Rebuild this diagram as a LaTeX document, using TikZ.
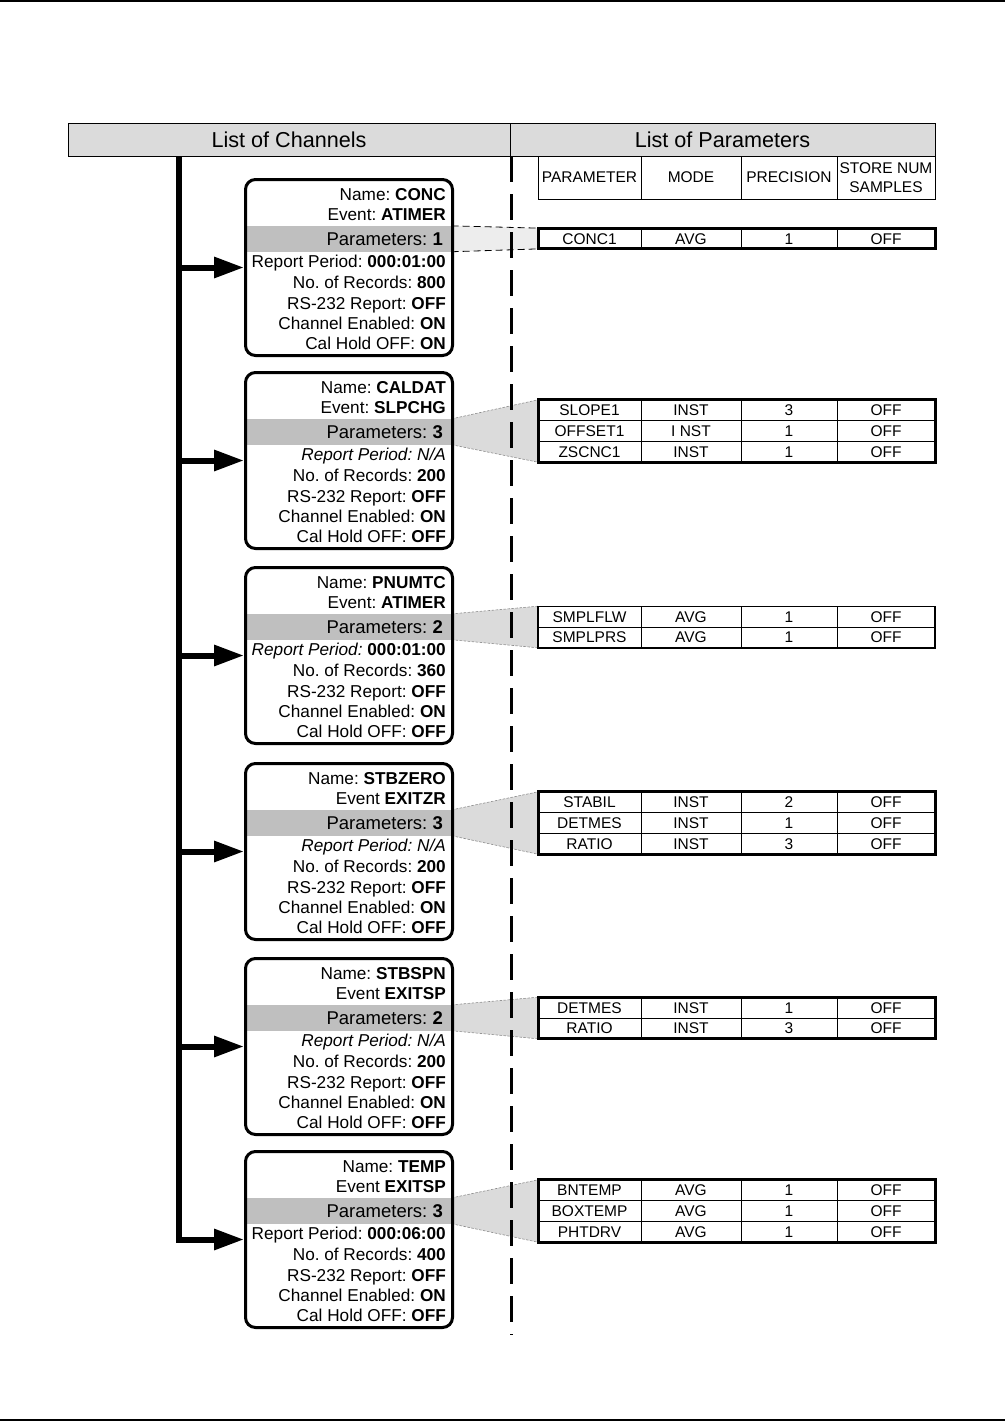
\documentclass[tikz,border=0pt]{standalone}
\usepackage{fontspec}
\setmainfont{Liberation Sans}
\usetikzlibrary{arrows.meta}
\pgfdeclarelayer{background}
\pgfsetlayers{background,main}
\frenchspacing
\begin{document}
\begin{tikzpicture}[x=1pt, y=-1pt,
    hdr/.style={draw, line width=0.8pt, fill=black!14, inner sep=0pt, minimum height=33pt,
      font=\fontsize{21.6}{24}\selectfont, text height=15.5pt, text depth=0pt},
    hcell/.style={draw, line width=0.8pt, inner sep=0pt, minimum height=43pt, align=center,
      font=\fontsize{15.5}{19}\selectfont},
    cell/.style={draw, line width=0.8pt, inner sep=0pt, outer sep=0pt, minimum height=20.8pt,
      font=\fontsize{15.5}{18}\selectfont, text height=11.1pt, text depth=0pt},
    chbox/.style={draw, line width=3pt, rounded corners=10pt, minimum width=207pt,
      minimum height=176pt, inner sep=0pt},
    bandbox/.style={fill=black!25, minimum width=205pt, minimum height=25.5pt, inner sep=0pt},
    chtext/.style={anchor=east, inner sep=0pt, font=\fontsize{17.2}{20}\selectfont,
      text height=12.3pt, text depth=0pt},
    bandtext/.style={anchor=east, inner sep=0pt, font=\fontsize{18.5}{21}\selectfont,
      text height=13.2pt, text depth=0pt},
    trunkline/.style={line width=6pt, -{Triangle[length=30pt, width=20pt]}},
    sepline/.style={line width=3pt, dash pattern=on 26pt off 12pt},
    callone/.style={fill=black!7},
    callmany/.style={fill=black!14},
    callone edge/.style={draw=black, line width=0.8pt, dash pattern=on 7pt off 4pt},
    callmany edge/.style={draw=black!45, line width=0.6pt, dash pattern=on 2.5pt off 1.5pt}]
  \useasboundingbox (0,0) rectangle (1005,1422);
  % ---- page rules ----
  \draw[line width=2pt] (0,1) -- (1005,1);
  \draw[line width=1.5pt] (0,1420) -- (1005,1420);
  % ---- headers ----
  \node[hdr, minimum width=442pt] (lch) at (289,139.5) {List of Channels};
  \node[hdr, minimum width=425pt] (lpar) at (722.5,139.5) {List of Parameters};
  \node[hcell, minimum width=103pt] (hp1) at (589.5,177.5) {PARAMETER};
  \node[hcell, minimum width=100pt] (hp2) at (691,177.5) {MODE};
  \node[hcell, minimum width=96pt] (hp3) at (789,177.5) {PRECISION};
  \node[hcell, minimum width=98pt] (hp4) at (886,177.5) {STORE NUM\\SAMPLES};
  % ---- separator ----
  \coordinate (sepTop) at (511,156);
  \coordinate (sepBot) at (511,1335);
  \draw[sepline] (sepTop) -- (sepBot);
  % ---- channels ----
  \foreach \i/\t/\nm/\ev/\np/\rp/\nr/\cl in {
      1/179/CONC/{Event: \textbf{ATIMER}}/1/{Report Period: \textbf{000:01:00}}/800/ON,
      2/372/CALDAT/{Event: \textbf{SLPCHG}}/3/{\textit{Report Period: N/A}}/200/OFF,
      3/567/PNUMTC/{Event: \textbf{ATIMER}}/2/{\textit{Report Period:} \textbf{000:01:00}}/360/OFF,
      4/763/STBZERO/{Event \textbf{EXITZR}}/3/{\textit{Report Period: N/A}}/200/OFF,
      5/958/STBSPN/{Event \textbf{EXITSP}}/2/{\textit{Report Period: N/A}}/200/OFF,
      6/1151/TEMP/{Event \textbf{EXITSP}}/3/{Report Period: \textbf{000:06:00}}/400/OFF} {
    \node[bandbox] (band\i) at (349,\t+59.8) {};
    \node[chbox] (ch\i) at (349,\t+88.5) {};
    \node[chtext] (nm\i) at (446,\t+15) {Name: \textbf{\nm}};
    \node[chtext] (ev\i) at (446,\t+35) {\ev};
    \node[bandtext] (np\i) at (443,\t+59.8) {Parameters: \textbf{\np}};
    \node[chtext] (rp\i) at (446,\t+82) {\rp};
    \node[chtext] (nr\i) at (446,\t+103) {No. of Records: \textbf{\nr}};
    \node[chtext] (rs\i) at (446,\t+124) {RS-232 Report: \textbf{OFF}};
    \node[chtext] (en\i) at (446,\t+144) {Channel Enabled: \textbf{ON}};
    \node[chtext] (cl\i) at (446,\t+164) {Cal Hold OFF: \textbf{\cl}};
  }
  % ---- trunk and arrows ----
  \coordinate (trunk) at (179,156);
  \foreach \i in {1,...,5}
    \draw[trunkline] (trunk |- ch\i.west) -- (ch\i.west);
  \draw[trunkline] (trunk) |- (ch6.west);
  % ---- parameter tables ----
  \foreach \k/\yc/\n/\bw/\cs/\rows in {
      1/238.5/1/3pt/callone/{CONC1/AVG/1/OFF},
      2/431/3/3pt/callmany/{SLOPE1/INST/3/OFF, OFFSET1/I NST/1/OFF, ZSCNC1/INST/1/OFF},
      3/627/2/1.4pt/callmany/{SMPLFLW/AVG/1/OFF, SMPLPRS/AVG/1/OFF},
      4/823/3/3pt/callmany/{STABIL/INST/2/OFF, DETMES/INST/1/OFF, RATIO/INST/3/OFF},
      5/1018/2/3pt/callmany/{DETMES/INST/1/OFF, RATIO/INST/3/OFF},
      6/1211/3/3pt/callmany/{BNTEMP/AVG/1/OFF, BOXTEMP/AVG/1/OFF, PHTDRV/AVG/1/OFF}} {
    \foreach \p/\m/\q/\s [count=\j] in \rows {
      \node[cell, minimum width=103pt] (t\k-\j-1) at (589.5,\yc-\n*10.4+\j*20.8-10.4) {\p};
      \node[cell, minimum width=100pt] (t\k-\j-2) at (691,\yc-\n*10.4+\j*20.8-10.4) {\m};
      \node[cell, minimum width=96pt] (t\k-\j-3) at (789,\yc-\n*10.4+\j*20.8-10.4) {\q};
      \node[cell, minimum width=98pt] (t\k-\j-4) at (886,\yc-\n*10.4+\j*20.8-10.4) {\s};
    }
    \draw[line width=\bw] (t\k-1-1.north west) rectangle (t\k-\n-4.south east);
    % callout from the channel band to its table
    \begin{pgfonlayer}{background}
      \fill[\cs] (band\k.north east) -- (t\k-1-1.north west) -- (t\k-\n-1.south west)
        -- (band\k.south east) -- cycle;
      \draw[\cs\space edge] (band\k.north east) -- (t\k-1-1.north west);
      \draw[\cs\space edge] (band\k.south east) -- (t\k-\n-1.south west);
    \end{pgfonlayer}
  }
\end{tikzpicture}
\end{document}
